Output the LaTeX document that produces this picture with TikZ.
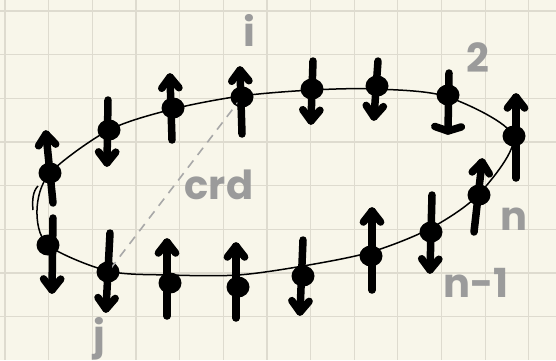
\documentclass[tikz,border=0pt]{standalone}
\usepackage{fontspec}
\newfontfamily\hand{Poppins}
\usetikzlibrary{calc,shapes.geometric}
\definecolor{paper}{HTML}{F8F6EA}
\definecolor{gridc}{HTML}{DEDBCF}
\definecolor{labc}{HTML}{9B9B9B}
\definecolor{chordc}{HTML}{A8A8A8}
\tikzset{
  gridline/.style={draw=gridc, line width=1.2pt},
  spinline/.style={line width=7.5pt, line cap=round, line join=round},
  dotnode/.style={ellipse, fill=black, minimum width=23pt, minimum height=21pt, inner sep=0pt},
  ring/.style={line width=1.5pt},
  chord/.style={draw=chordc, line width=1.6pt, dash pattern=on 9pt off 7pt},
  lab/.style={text=labc, font=\hand\bfseries\fontsize{40}{40}\selectfont, inner sep=0pt}
}
\newcommand\spinarr[3]{%
  \draw[spinline] (#3) -- (#2);
  \draw[spinline] ($(#2)!14pt!#1:(#3)$) -- (#2) -- ($(#2)!14pt!-#1:(#3)$);}
\begin{document}
\begin{tikzpicture}[x=1pt,y=-1pt]
\useasboundingbox (0,0) rectangle (556,360);
\clip (0,0) rectangle (556,360);
\fill[paper] (0,0) rectangle (556,360);
\foreach \k in {0,...,12} \draw[gridline] ({5+43.65*\k},0) -- ({5+43.65*\k},360);
\foreach \k in {0,...,7} \draw[gridline] (0,{11+43.65*\k}) -- (556,{11+43.65*\k});
% dots
\foreach \i/\x/\y in {1/50/173,2/109/130,3/173/108,4/242/97,5/312/89,6/377/86,7/448/95,8/514/136,
  9/479/195,10/431/232,11/371/256,12/303/276,13/238/287,14/170/283,15/108/272,16/48/245}
  \node[dotnode] (s\i) at (\x,\y) {};
% loop path points
\foreach \i/\x/\y in {1/50/173,2/109/130,3/173/109,4/241/96,5/312/90,6/377/89,7/448/97,8/513/136,
  9/480/193,10/431/228,11/371/252,12/303/266,13/238/275,14/170/275,15/108/271,16/48/245,17/37/210}
  \coordinate (p\i) at (\x,\y);
\draw[chord] (s4.center) -- (s15.center);
\draw[ring] plot[smooth cycle, tension=0.5] coordinates {(p1) (p2) (p3) (p4) (p5) (p6) (p7) (p8) (p9) (p10) (p11) (p12) (p13) (p14) (p15) (p16) (p17)};
\coordinate (q1) at (38,186);
\coordinate (q2) at (33,210);
\draw[ring] (q1) .. controls (33,191) and (32,200) .. (q2);
% spins: tip / tail
\foreach \i/\tx/\ty/\bx/\by/\a in {1/46/134/53/203/38,2/107/163/108/100/38,3/170/77/172/140/38,4/240/70/242/134/38,
  5/311/121/313/61/38,6/374/117/378/61/38,7/448/131/449/73/72,8/516/97/516/178/38,
  9/482/162/474/232/38,10/430/270/432/195/38,11/372/211/372/290/38,12/300/312/303/240/38,
  13/236/246/236/318/38,14/167/242/167/316/38,15/106/309/110/233/38,16/52/290/53/218/38}
{
  \coordinate (t\i) at (\tx,\ty);
  \coordinate (b\i) at (\bx,\by);
  \spinarr{\a}{t\i}{b\i}
}
% labels
\node[lab] (li) at (249,30) {i};
\node[lab] (l2) at (478,58) {2};
\node[lab] (lcrd) at (219,185) {crd};
\node[lab] (ln) at (514,219) {n};
\node[lab] (lnm) at (476,283) {n-1};
\node[lab] (lj) at (99,339) {j};
\node[lab] (l1) at (563,126) {1};
\end{tikzpicture}
\end{document}
